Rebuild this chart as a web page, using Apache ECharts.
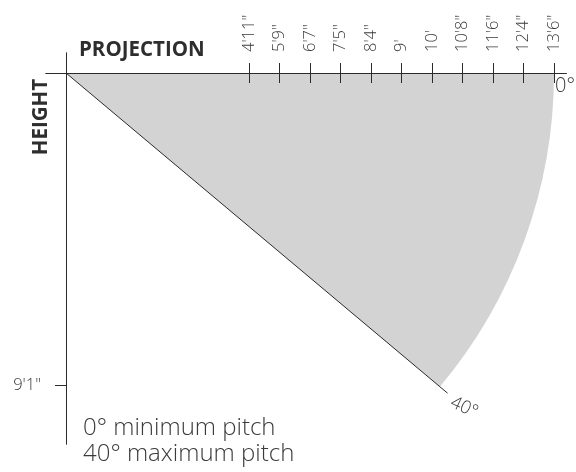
<!DOCTYPE html>
<html>
<head>
<meta charset="utf-8">
<script src="https://cdn.jsdelivr.net/npm/echarts@6/dist/echarts.min.js"></script>
<style>
html,body{margin:0;padding:0;background:#fff;}
#chart{width:576px;height:472px;}
</style>
</head>
<body>
<div id="chart"></div>
<script>
// ---- data ----
const projectionTickPos = [6, 7, 8, 9, 10, 11, 12, 13, 14, 15, 16];
const projectionLabels = ['4\'11"', '5\'9"', '6\'7"', '7\'5"', '8\'4"', "9'", "10'", '10\'8"', '11\'6"', '12\'4"', '13\'6"'];
const heightTickPos = [10.23];
const heightLabels = ['9\'1"'];
const pitchRange = [0, 40];          // degrees: minimum, maximum
const fanRadius = 16;                // max projection (axis units)
const rayLength = 16.33;             // length of 40° boundary ray
const xTitle = 'PROJECTION';
const yTitle = 'HEIGHT';

// ---- layout ----
const unit = 30.5;
const xMin = -0.656, xMax = 16.4;
const yMin = -0.656, yMax = 12.164;
const FONT = '"Open Sans", "Noto Sans", sans-serif';
const TXT = '#3a3a3a';
const LINE = '#2b2b2b';

const chart = echarts.init(document.getElementById('chart'), null, {renderer: 'canvas'});

function xAxisBase(inside) {
  return {
    type: 'value', position: 'top', min: xMin, max: xMax, z: 10,
    axisLine: {show: true, onZero: true, onZeroAxisIndex: 0, lineStyle: {color: LINE, width: 1}},
    axisTick: {show: true, inside: inside, length: 10, customValues: projectionTickPos, lineStyle: {color: LINE, width: 1}},
    axisLabel: {
      show: !inside, rotate: 90, margin: 1, customValues: projectionTickPos,
      formatter: v => { const i = projectionTickPos.findIndex(p => Math.abs(p - v) < 1e-6); return i >= 0 ? projectionLabels[i] : ''; },
      fontFamily: FONT, fontSize: 16.5, fontWeight: 300, color: TXT
    },
    splitLine: {show: false}
  };
}
function yAxisBase(inside) {
  return {
    type: 'value', inverse: true, min: yMin, max: yMax, z: 10,
    axisLine: {show: true, onZero: true, onZeroAxisIndex: 0, lineStyle: {color: LINE, width: 1}},
    axisTick: {show: true, inside: inside, length: inside ? 10 : 11, customValues: heightTickPos, lineStyle: {color: LINE, width: 1}},
    axisLabel: {
      show: !inside, margin: 5, customValues: heightTickPos,
      formatter: v => { const i = heightTickPos.findIndex(p => Math.abs(p - v) < 1e-6); return i >= 0 ? heightLabels[i] : ''; },
      fontFamily: FONT, fontSize: 16.5, fontWeight: 300, color: TXT
    },
    splitLine: {show: false}
  };
}

const option = {
  backgroundColor: '#fff',
  animation: false,
  grid: {left: 46, top: 53, width: (xMax - xMin) * unit, height: (yMax - yMin) * unit, containLabel: false},
  xAxis: [xAxisBase(false), xAxisBase(true)],
  yAxis: [yAxisBase(false), yAxisBase(true)],
  graphic: [
    {type: 'text', x: 79, y: 50, style: {text: xTitle, fontFamily: FONT, fontSize: 20.5, fontWeight: 'bold', fill: '#2e2e2e', verticalAlign: 'middle'}},
    {type: 'text', x: 41, y: 117, rotation: Math.PI / 2, style: {text: yTitle, fontFamily: FONT, fontSize: 20.5, fontWeight: 'bold', fill: '#2e2e2e', align: 'center', verticalAlign: 'middle'}},
    {type: 'text', x: 83, y: 428, style: {text: pitchRange[0] + '° minimum pitch', fontFamily: FONT, fontSize: 24, fontWeight: 300, fill: TXT, verticalAlign: 'middle'}},
    {type: 'text', x: 83, y: 454, style: {text: pitchRange[1] + '° maximum pitch', fontFamily: FONT, fontSize: 24, fontWeight: 300, fill: TXT, verticalAlign: 'middle'}}
  ],
  series: [{
    type: 'custom',
    xAxisIndex: 0, yAxisIndex: 0,
    data: [[0, 0]],
    encode: {x: 0, y: 1},
    renderItem: function (params, api) {
      const o = api.coord([0, 0]);
      const r = api.size([fanRadius, fanRadius])[0];
      const a0 = pitchRange[0] * Math.PI / 180;
      const a1 = pitchRange[1] * Math.PI / 180;
      const end = api.coord([rayLength * Math.cos(a1), rayLength * Math.sin(a1)]);
      const tip0 = api.coord([fanRadius * Math.cos(a0), fanRadius * Math.sin(a0)]);
      const lbl = api.coord([16.45 * Math.cos(a1), 16.45 * Math.sin(a1)]);
      return {
        type: 'group',
        children: [
          {type: 'sector', shape: {cx: o[0], cy: o[1], r0: 0, r: r, startAngle: a0, endAngle: a1, clockwise: true}, style: {fill: '#d3d3d3'}},
          {type: 'line', shape: {x1: o[0], y1: o[1], x2: end[0], y2: end[1]}, style: {stroke: LINE, lineWidth: 1}},
          {type: 'text', x: tip0[0] + 1, y: tip0[1] + 3, style: {text: pitchRange[0] + '°', fontFamily: FONT, fontSize: 20, fontWeight: 300, fill: TXT, align: 'left', verticalAlign: 'top'}},
          {type: 'text', x: lbl[0] + 1, y: lbl[1] + 6, rotation: -25 * Math.PI / 180, style: {text: pitchRange[1] + '°', fontFamily: FONT, fontSize: 18, fontWeight: 300, fill: TXT, align: 'left', verticalAlign: 'middle'}}
        ]
      };
    }
  }]
};
chart.setOption(option);
</script>
</body>
</html>
